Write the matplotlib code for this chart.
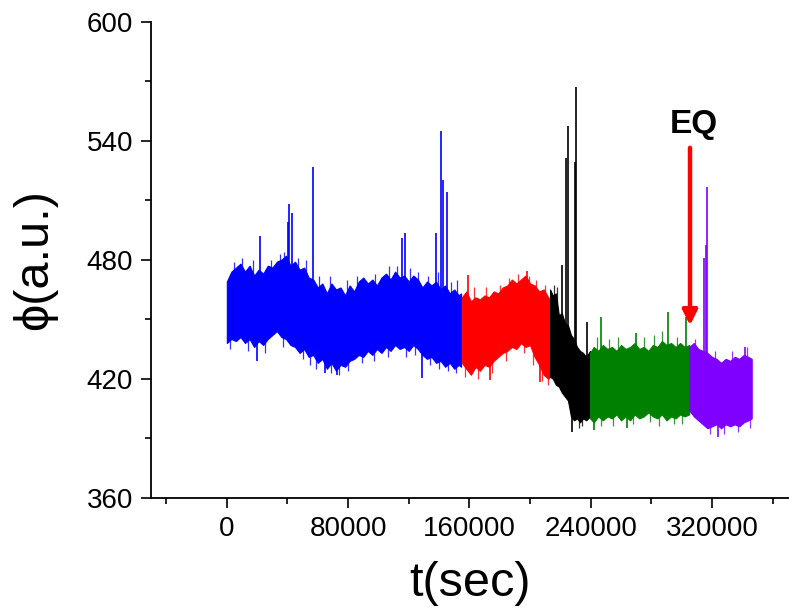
import numpy as np
import matplotlib
matplotlib.use('Agg')
import matplotlib.pyplot as plt
from matplotlib.ticker import MultipleLocator

plt.rcParams['font.family'] = ['Liberation Sans', 'DejaVu Sans']

# envelopes of each segment, t in 1000 s
blue_t = [0, 3, 6, 9, 12, 15, 18, 21, 24, 27, 30, 33, 36, 39, 42, 45, 48, 51, 54, 57,
          60, 63, 66, 69, 72, 75, 78, 81, 84, 87, 90, 93, 96, 99, 102, 105, 108, 111,
          114, 117, 120, 123, 126, 129, 132, 135, 138, 141, 144, 147, 150, 153, 154.5]
blue_hi = [469, 474, 476, 478, 474, 477, 472, 475, 473, 477, 476, 479, 480, 482, 477, 479,
           475, 476, 471, 470, 466, 468, 463, 468, 465, 466, 462, 467, 464, 469, 471, 468,
           470, 467, 471, 473, 470, 474, 471, 472, 469, 472, 470, 466, 469, 467, 469, 465,
           467, 463, 465, 462, 463]
blue_lo = [438, 440, 439, 441, 438, 440, 436, 439, 437, 440, 442, 444, 441, 440, 437, 436,
           433, 435, 431, 432, 428, 430, 425, 428, 424, 427, 426, 429, 430, 432, 431, 434,
           432, 435, 433, 436, 434, 437, 435, 436, 434, 437, 435, 432, 430, 431, 428, 429,
           426, 428, 425, 427, 426]

red_t = [155, 158, 161, 164, 167, 170, 173, 176, 179, 182, 185, 188, 191, 194, 197, 200,
         203, 206, 209, 212, 213.2]
red_hi = [461, 464, 459, 461, 460, 462, 461, 464, 463, 466, 467, 470, 468, 470, 472, 468,
          467, 464, 465, 461, 460]
red_lo = [428, 425, 422, 426, 424, 427, 426, 429, 431, 433, 434, 436, 435, 438, 436, 437,
          431, 427, 422, 420, 421]

black_t = [213.2, 215, 217, 219, 221, 223, 225, 227, 229, 231, 233, 235, 237, 239.6]
black_hi = [465, 462, 463, 452, 453, 448, 447, 442, 440, 436, 434, 433, 431, 434]
black_lo = [421, 420, 417, 416, 413, 411, 409, 401, 399, 400, 398, 400, 399, 401]

green_t = [239.6, 242, 245, 248, 251, 254, 257, 260, 263, 266, 269, 272, 275, 278, 281,
           284, 287, 290, 293, 296, 299, 302, 305]
green_hi = [433, 436, 434, 437, 435, 436, 434, 437, 435, 436, 438, 435, 436, 434, 437, 436,
            439, 437, 438, 436, 438, 436, 437]
green_lo = [400, 398, 401, 399, 401, 400, 402, 399, 401, 399, 402, 400, 401, 403, 401, 400,
            402, 399, 401, 400, 402, 401, 402]

purple_t = [305, 308, 311, 314, 317, 320, 323, 326, 329, 332, 335, 338, 341, 344, 346.2]
purple_hi = [436, 438, 435, 434, 433, 431, 430, 428, 430, 429, 431, 430, 432, 431, 430]
purple_lo = [404, 401, 399, 397, 395, 396, 397, 395, 397, 396, 397, 396, 398, 399, 400]

# large isolated spikes (t in 1000 s, peak value)
blue_spk_t = [22.0, 40.4, 41.1, 43.0, 56.7, 115.4, 117.6, 137.8, 141.3, 142.4, 145.1,
              20.2, 64.8, 72.5, 128.6]
blue_spk_v = [492.1, 499.1, 508.1, 503.4, 526.6, 490.8, 493.3, 493.3, 544.9, 520.2, 514.3,
              428.9, 422.7, 421.8, 420.2]
red_spk_t = [159.4, 197.8, 173.6, 206.6]
red_spk_v = [472.3, 474.4, 419.3, 418.5]
black_spk_t = [220.9, 223.8, 225.1, 229.7, 230.2, 237.4, 227.5]
black_spk_v = [477.3, 531.1, 547.6, 529.4, 567.2, 448.7, 393.2]
green_spk_t = [246.9, 269.7, 290.8, 302.9, 242.5, 263.8]
green_spk_v = [451.2, 442.9, 453.8, 451.2, 394.1, 395.0]
purple_spk_t = [314.8, 316.1, 316.8, 341.8, 324.2]
purple_spk_v = [480.7, 487.4, 516.8, 436.1, 390.7]

# small noise excursions beyond the band edges
blue_nz_t = [5, 10, 17, 29, 35, 38, 47, 52, 61, 68, 79, 86, 98, 107, 112, 121, 126, 133, 139,
             148, 152, 2, 14, 25, 37, 50, 55, 59, 69, 74, 80, 89, 97, 106, 118, 124, 134,
             140, 146, 151]
blue_nz_v = [479, 481, 480, 480, 483, 484, 481, 480, 472, 472, 470, 472, 473, 477, 477, 476,
             474, 472, 474, 469, 470, 435, 434, 433, 436, 430, 427, 425, 423, 422, 424, 428,
             429, 431, 431, 432, 427, 425, 424, 423]
red_nz_t = [163, 171, 180, 186, 192, 199, 204, 210, 157, 166, 175, 184, 196, 202, 208, 212]
red_nz_v = [466, 466, 467, 471, 473, 472, 470, 467, 421, 420, 423, 429, 433, 427, 419, 417]
black_nz_t = [216, 218, 232, 234]
black_nz_v = [467, 466, 395, 396]
green_nz_t = [244, 252, 258, 275, 282, 287, 297, 247, 255, 268, 279, 285, 295, 300]
green_nz_v = [441, 440, 441, 441, 442, 444, 441, 396, 396, 397, 398, 396, 397, 397]
purple_nz_t = [309, 322, 333, 343, 319, 328, 337, 345]
purple_nz_v = [440, 434, 434, 436, 392, 392, 393, 395]

eq_t = 305.5
eq_top, eq_tip = 537.8, 445.5

segments = [
    (blue_t, blue_hi, blue_lo, blue_spk_t, blue_spk_v, blue_nz_t, blue_nz_v, '#0000FF'),
    (red_t, red_hi, red_lo, red_spk_t, red_spk_v, red_nz_t, red_nz_v, '#FF0000'),
    (black_t, black_hi, black_lo, black_spk_t, black_spk_v, black_nz_t, black_nz_v, '#000000'),
    (green_t, green_hi, green_lo, green_spk_t, green_spk_v, green_nz_t, green_nz_v, '#008000'),
    (purple_t, purple_hi, purple_lo, purple_spk_t, purple_spk_v, purple_nz_t, purple_nz_v, '#8000FF'),
]

fig = plt.figure(figsize=(7.89, 6.13), dpi=100)
ax = fig.add_axes([0.1914, 0.1881, 0.8086, 0.7765])

for t, hi, lo, st, sv, nt, nv, c in segments:
    t = np.array(t) * 1000
    hi = np.array(hi)
    lo = np.array(lo)
    ax.fill_between(t, lo, hi, color=c, linewidth=0.8, edgecolor=c)
    st = np.array(st) * 1000
    mid = (np.interp(st, t, hi) + np.interp(st, t, lo)) / 2
    ax.vlines(st, mid, sv, color=c, linewidth=1.2)
    nt = np.array(nt) * 1000
    mid = (np.interp(nt, t, hi) + np.interp(nt, t, lo)) / 2
    ax.vlines(nt, mid, nv, color=c, linewidth=0.9, alpha=0.8)

ax.annotate('', xy=(eq_t * 1000, eq_tip), xytext=(eq_t * 1000, eq_top),
            arrowprops=dict(arrowstyle='-|>', color='#FF0000', lw=3.2, mutation_scale=22))
ax.text(eq_t * 1000 + 2700, eq_top + 6, 'EQ', fontsize=24, fontweight='bold',
        ha='center', va='baseline')

ax.set_xlim(-50000, 370800)
ax.set_ylim(360, 600)
ax.xaxis.set_minor_locator(MultipleLocator(40000))
ax.yaxis.set_major_locator(MultipleLocator(60))
ax.yaxis.set_minor_locator(MultipleLocator(30))
ax.set_xticks([0, 80000, 160000, 240000, 320000])

for s in ['top', 'right']:
    ax.spines[s].set_visible(False)
for s in ['left', 'bottom']:
    ax.spines[s].set_linewidth(1.3)

ax.tick_params(which='major', direction='out', length=7, width=1.2, labelsize=20, pad=6)
ax.tick_params(which='minor', direction='out', length=4, width=1.2)

ax.set_xlabel('t(sec)', fontsize=35, labelpad=14)
ax.set_ylabel('ϕ(a.u.)', fontsize=35, labelpad=21)

fig.savefig('out.png', dpi=100)
